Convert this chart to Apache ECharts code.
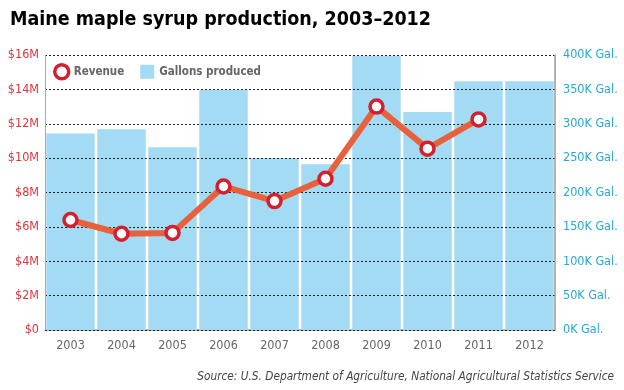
<!DOCTYPE html>
<html><head><meta charset="utf-8">
<script src="https://cdn.jsdelivr.net/npm/echarts@6/dist/echarts.min.js"></script>
<style>html,body{margin:0;padding:0;background:#fff}#c{width:624px;height:390px}</style>
</head><body><div id="c"></div>
<script>
var years = ['2003','2004','2005','2006','2007','2008','2009','2010','2011','2012'];
var revenue = [6.4, 5.6, 5.65, 8.35, 7.5, 8.8, 13.0, 10.55, 12.25, null];
var gallons = [286, 292, 266, 349, 250, 241, 399, 317, 362, 362];
var revTicks = ['$0','$2M','$4M','$6M','$8M','$10M','$12M','$14M','$16M'];

var chart = echarts.init(document.getElementById('c'), null, {renderer:'canvas'});
var font = '"DejaVu Sans Condensed", "DejaVu Sans", sans-serif';
chart.setOption({
  animation:false,
  backgroundColor:'#fff',
  textStyle:{fontFamily:font},
  title:[{
    text:'Maine maple syrup production, 2003\u20132012',
    left:5, top:5,
    textStyle:{fontFamily:font, fontSize:19.5, fontWeight:'bold', color:'#000'}
  },{
    text:'Source: U.S. Department of Agriculture, National Agricultural Statistics Service',
    right:5, top:366,
    textStyle:{fontFamily:font, fontSize:11.75, fontStyle:'italic', fontWeight:'normal', color:'#444'}
  }],
  legend:{
    left:48, top:58, itemGap:16, itemWidth:14, itemHeight:14,
    textStyle:{fontFamily:font, fontSize:11.5, fontWeight:'bold', color:'#666'},
    data:[
      {name:'Revenue', icon:'circle', itemStyle:{color:'#fff', borderColor:'#d4202e', borderWidth:3.5}},
      {name:'Gallons produced', icon:'rect', itemStyle:{color:'#a3daf4'}}
    ]
  },
  grid:{left:45, right:69, top:55, bottom:60, containLabel:false},
  xAxis:{
    type:'category', data:years,
    axisLine:{show:true, lineStyle:{color:'#999', width:1.5}},
    axisTick:{show:false},
    axisLabel:{color:'#666', fontSize:12.5, margin:9, fontFamily:font}
  },
  yAxis:[{
    type:'value', min:0, max:16, interval:2, position:'left', z:3,
    axisLine:{show:true, lineStyle:{color:'#aaa', width:1}},
    axisTick:{show:false},
    splitLine:{show:true, lineStyle:{color:'#222', type:[2,2], width:1}},
    axisLabel:{color:'#e0343c', fontSize:12.5, margin:6, fontFamily:font,
      formatter:function(v){return revTicks[Math.round(v/2)];}}
  },{
    type:'value', min:0, max:400, interval:50, position:'right', z:3,
    axisLine:{show:true, lineStyle:{color:'#999', width:1.5}},
    axisTick:{show:false},
    splitLine:{show:false},
    axisLabel:{color:'#25a8d4', fontSize:12.5, margin:8, fontFamily:font,
      formatter:function(v){return v+'K Gal.';}}
  }],
  series:[{
    name:'Gallons produced', type:'bar', yAxisIndex:1, data:gallons,
    barCategoryGap:'5%', itemStyle:{color:'#a3daf4'}, z:2
  },{
    name:'Revenue', type:'line', yAxisIndex:0, data:revenue, z:5,
    lineStyle:{color:'#e8603c', width:6},
    symbol:'circle', symbolSize:13, showAllSymbol:true,
    itemStyle:{color:'#fff', borderColor:'#d4202e', borderWidth:3.5}
  }]
});
</script></body></html>
